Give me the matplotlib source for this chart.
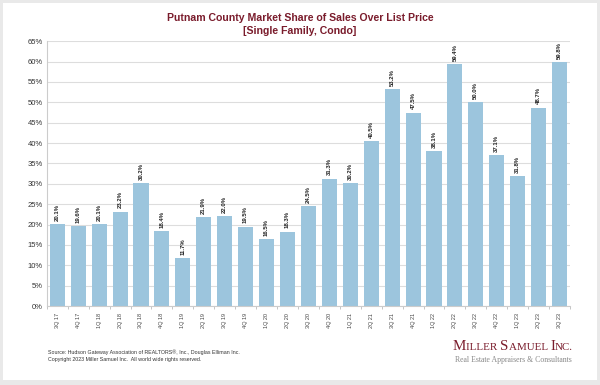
import matplotlib.pyplot as plt
from matplotlib.patches import Rectangle
import numpy as np

quarters = ['3Q 17', '4Q 17', '1Q 18', '2Q 18', '3Q 18', '4Q 18', '1Q 19', '2Q 19',
            '3Q 19', '4Q 19', '1Q 20', '2Q 20', '3Q 20', '4Q 20', '1Q 21', '2Q 21',
            '3Q 21', '4Q 21', '1Q 22', '2Q 22', '3Q 22', '4Q 22', '1Q 23', '2Q 23', '3Q 23']
share = [20.1, 19.6, 20.1, 23.2, 30.2, 18.4, 11.7, 21.9, 22.0, 19.5, 16.5, 18.3, 24.5,
         31.3, 30.2, 40.5, 53.2, 47.5, 38.1, 59.4, 50.0, 37.1, 31.8, 48.7, 59.8]

plt.rcParams['font.family'] = ['Liberation Sans', 'DejaVu Sans']

fig = plt.figure(figsize=(6, 3.85), dpi=100, facecolor='#e9e9e9')
fig.patches.append(Rectangle((3/600, 5/385), 594/600, 377/385, transform=fig.transFigure,
                             facecolor='white', edgecolor='none', zorder=-10))

ax = fig.add_axes([0.078, 0.205, 0.872, 0.688])
x = np.arange(len(quarters))
ax.bar(x, share, width=0.72, color='#9cc5dd', zorder=2)
for xi, v in zip(x, share):
    ax.text(xi, v + 0.8, '%.1f%%' % v, rotation=90, ha='center', va='bottom',
            fontsize=4.3, fontweight='bold', color='#222222')

ax.set_xlim(-0.5, len(quarters) - 0.5)
ax.set_ylim(0, 65)
ax.set_yticks(np.arange(0, 66, 5))
ax.set_yticklabels(['%d%%' % t for t in range(0, 66, 5)], fontsize=5.5, color='#333333')
ax.set_xticks(x)
ax.set_xticklabels(quarters, rotation=90, fontsize=4, color='#444444')
ax.set_xticks(np.arange(-0.5, len(quarters), 1), minor=True)
ax.tick_params(axis='x', which='major', length=0, pad=5)
ax.tick_params(axis='x', which='minor', length=2, color='#bbbbbb')
ax.tick_params(axis='y', length=0, pad=3)
ax.grid(axis='y', color='#dddddd', linewidth=0.8, zorder=0)
for s in ['top', 'right']:
    ax.spines[s].set_visible(False)
ax.spines['left'].set_color('#cccccc')
ax.spines['bottom'].set_color('#cccccc')

fig.text(0.5, 0.953, 'Putnam County Market Share of Sales Over List Price',
         ha='center', va='center', fontsize=7.6, fontweight='bold', color='#7a1c2c')
fig.text(0.5, 0.92, '[Single Family, Condo]',
         ha='center', va='center', fontsize=7.6, fontweight='bold', color='#7a1c2c')

fig.text(0.08, 0.086, 'Source: Hudson Gateway Association of REALTORS\u00ae, Inc., Douglas Elliman Inc.',
         fontsize=3.8, color='#333333', va='center')
fig.text(0.08, 0.065, 'Copyright 2023 Miller Samuel Inc.  All world wide rights reserved.',
         fontsize=3.8, color='#333333', va='center')

# logo in small caps, built piece by piece
r = fig.canvas.get_renderer()
pieces = [('M', 10.8), ('ILLER ', 7.9), ('S', 10.8), ('AMUEL ', 7.9), ('I', 10.8), ('NC.', 7.9)]
xpos = 453
for s, fs in pieces:
    t = fig.text(xpos / 600, 1 - 350 / 385, s, family='Liberation Serif', fontsize=fs,
                 color='#7a1c2c', ha='left', va='baseline')
    xpos += t.get_window_extent(r).width
fig.text(0.953, 0.065, 'Real Estate Appraisers & Consultants', family='Liberation Serif',
         fontsize=5.6, color='#888888', ha='right', va='center')

plt.savefig('out.png', dpi=100, facecolor=fig.get_facecolor())
